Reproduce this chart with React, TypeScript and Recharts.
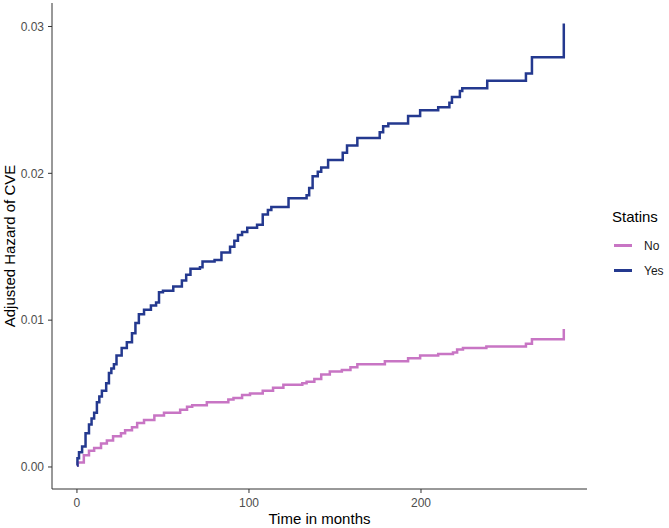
import React from 'react';
import { LineChart, Line, XAxis, YAxis } from 'recharts';

// Time points (months) and adjusted cumulative hazard
const yesTimes = [0, 0.3, 1.2, 3, 5, 7, 8.5, 10, 11.6, 13, 14.5, 17, 18.6, 20, 21.5, 23, 26, 29, 32, 34, 36, 39, 43, 46, 47.7, 50, 56, 61, 63.5, 66, 71.5, 73, 80, 84, 89, 91.5, 93.6, 96, 99, 104.7, 108, 111, 113, 123, 133.5, 135, 137, 140, 142, 146, 154.5, 157, 163, 176, 178, 181, 192.5, 199.5, 210, 216.5, 218, 222.6, 224, 238.5, 261, 264.5, 283, 283.01];
const yesHazard = [0.0001, 0.0006, 0.001, 0.0014, 0.0023, 0.0029, 0.0033, 0.0037, 0.0044, 0.0048, 0.0052, 0.0057, 0.0064, 0.0067, 0.007, 0.0076, 0.0081, 0.0085, 0.0091, 0.0098, 0.0104, 0.0107, 0.011, 0.0112, 0.0119, 0.012, 0.0123, 0.0127, 0.0131, 0.0135, 0.0136, 0.014, 0.0141, 0.0146, 0.015, 0.0154, 0.0158, 0.016, 0.0163, 0.0165, 0.0172, 0.0175, 0.0177, 0.0183, 0.0185, 0.019, 0.0198, 0.0201, 0.0204, 0.0209, 0.0214, 0.0219, 0.0224, 0.0228, 0.0232, 0.0234, 0.0239, 0.0243, 0.0245, 0.0248, 0.0252, 0.0256, 0.0258, 0.0263, 0.0268, 0.0279, 0.0279, 0.0302];

const noTimes = [0, 0.5, 4, 7, 10, 14, 17.4, 21, 25.6, 28, 32, 35, 39, 45, 50.6, 60, 64, 67, 75.5, 88, 91, 96, 100.6, 108, 114, 120, 131, 133.5, 138, 142, 147, 154, 159, 163, 179, 192.5, 199.5, 210, 218.6, 221, 224.4, 238, 261, 264.5, 283, 283.01];
const noHazard = [0.0001, 0.0003, 0.0008, 0.0011, 0.0013, 0.0016, 0.0018, 0.0021, 0.0023, 0.0025, 0.0027, 0.003, 0.0032, 0.0035, 0.0037, 0.0039, 0.0041, 0.0042, 0.0044, 0.0046, 0.0047, 0.0049, 0.005, 0.0052, 0.0054, 0.0056, 0.0057, 0.0058, 0.006, 0.0063, 0.0065, 0.0066, 0.0068, 0.007, 0.0072, 0.0074, 0.0076, 0.0077, 0.0078, 0.008, 0.0081, 0.0082, 0.0084, 0.0087, 0.0087, 0.0094];

const xTicks = [0, 100, 200];
const yTicks = [0, 0.01, 0.02, 0.03];

const groups = ['No', 'Yes'];
const groupColors = ['#C875C4', '#24398F'];

const yesData = yesTimes.map((t, i) => ({ t, hazard: yesHazard[i] }));
const noData = noTimes.map((t, i) => ({ t, hazard: noHazard[i] }));

const font = 'Arial, "Liberation Sans", sans-serif';
const tickStyle = { fill: '#4D4D4D', fontSize: 12, fontFamily: font };

const StatinsLegend = () => (
    <div style={{ position: 'absolute', left: 612, top: 208, fontFamily: font, color: '#000' }}>
        <div style={{ fontSize: 15, marginBottom: 8 }}>Statins</div>
        {groups.map((g, i) => (
            <div key={g} style={{ display: 'flex', alignItems: 'center', height: 25 }}>
                <span style={{ display: 'inline-block', width: 18, height: 2.5, background: groupColors[i], marginLeft: 2, marginRight: 12 }} />
                <span style={{ fontSize: 12, color: '#1a1a1a' }}>{g}</span>
            </div>
        ))}
    </div>
);

export default function App() {
    return (
        <div style={{ position: 'absolute', left: 0, top: 0, width: 669, height: 528, background: '#fff' }}>
            <LineChart width={669} height={528} margin={{ top: 3, right: 82, bottom: 0, left: 0 }}>
                <XAxis
                    dataKey="t"
                    type="number"
                    domain={[-14.5, 296.5]}
                    ticks={xTicks}
                    allowDataOverflow
                    height={39}
                    stroke="#333333"
                    tick={tickStyle}
                    tickSize={4}
                    tickMargin={5}
                    label={{ value: 'Time in months', position: 'insideBottom', offset: 4, style: { fill: '#000', fontSize: 15, fontFamily: font } }}
                />
                <YAxis
                    type="number"
                    domain={[-0.0015, 0.0316]}
                    ticks={yTicks}
                    allowDataOverflow
                    width={52}
                    stroke="#333333"
                    tick={tickStyle}
                    tickSize={4}
                    tickMargin={4}
                    tickFormatter={(v: number) => v.toFixed(2)}
                    label={{ value: 'Adjusted Hazard of CVE', angle: -90, position: 'insideLeft', offset: 10, style: { textAnchor: 'middle', fill: '#000', fontSize: 15, fontFamily: font } }}
                />
                <Line
                    data={noData}
                    dataKey="hazard"
                    name="No"
                    type="stepAfter"
                    stroke={groupColors[0]}
                    strokeWidth={2.5}
                    dot={false}
                    isAnimationActive={false}
                />
                <Line
                    data={yesData}
                    dataKey="hazard"
                    name="Yes"
                    type="stepAfter"
                    stroke={groupColors[1]}
                    strokeWidth={2.5}
                    dot={false}
                    isAnimationActive={false}
                />
            </LineChart>
            <StatinsLegend />
        </div>
    );
}
